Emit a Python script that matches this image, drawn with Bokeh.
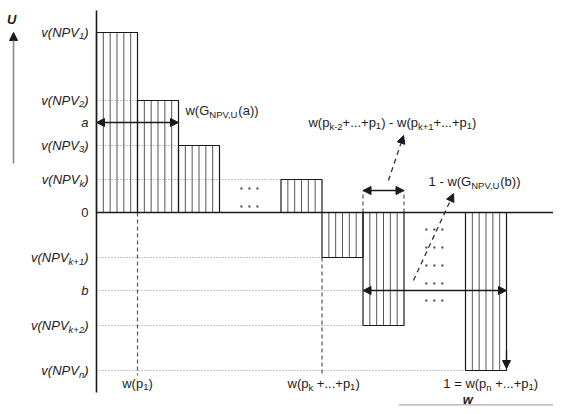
import numpy as np
from bokeh.plotting import figure
from bokeh.models import ColumnDataSource, Range1d, Arrow, NormalHead
from bokeh.core.properties import value, field
from bokeh.embed import file_html
from bokeh.resources import INLINE

# ---------------- data (w = cumulative decision weight, U = utility) -------------
bar_left = [0.00, 0.10, 0.20, 0.45, 0.55, 0.65, 0.90]
bar_right = [0.10, 0.20, 0.30, 0.55, 0.65, 0.75, 1.00]
bar_value = [9.0, 5.6, 3.35, 1.65, -2.25, -5.65, -7.9]
level_a = 4.5
level_b = -3.9
tick_values = [9.0, 5.6, 4.5, 3.35, 1.65, 0.0, -2.25, -3.9, -5.65, -7.9]
tick_labels = ["v(NPV_{1})", "v(NPV_{2})", "a", "v(NPV_{3})", "v(NPV_{k})", "0",
               "v(NPV_{k+1})", "b", "v(NPV_{k+2})", "v(NPV_{n})"]
w_ticks = [0.10, 0.55, 1.00]
w_tick_labels = ["w(p_{1})", "w(p_{k} +...+p_{1})", "1 = w(p_{n} +...+p_{1})"]
gap_marker = [0.65, 0.75, 1.1]          # x0, x1, height of the small width marker
dots_upper = ([0.373], [1.2, 0.3])
dots_lower = ([0.824], [-0.85, -1.75, -2.65, -3.55, -4.4])

# -------------------------------------------------------------------------------
ARIAL = {' ': 278, '(': 333, ')': 333, '+': 584, ',': 278, '-': 333, '.': 278, '=': 584,
         'G': 778, 'N': 722, 'P': 667, 'U': 722, 'V': 667, 'a': 556, 'b': 556, 'k': 500,
         'n': 556, 'p': 556, 'v': 500, 'w': 722}


def parse(s):
    parts = []
    i = 0
    while i < len(s):
        j = s.find("_{", i)
        if j < 0:
            parts.append((s[i:], False))
            break
        if j > i:
            parts.append((s[i:j], False))
        k = s.find("}", j)
        parts.append((s[j + 2:k], True))
        i = k + 1
    return parts


def twidth(t, size):
    return sum(ARIAL.get(c, 556) for c in t) * size / 1000.0


texts = {}


def rich(x, y, s, align="left", dx=0.0, size=13.0, sub=9.5, style="normal"):
    parts = parse(s)
    total = sum(twidth(t, sub if b else size) for t, b in parts)
    cur = dx - {"left": 0.0, "center": total / 2.0, "right": total}[align]
    d = texts.setdefault(style, dict(x=[], y=[], text=[], xo=[], yo=[], size=[]))
    for t, b in parts:
        fs = sub if b else size
        d["x"].append(x); d["y"].append(y); d["text"].append(t.replace(" ", "\u00a0"))
        d["xo"].append(cur); d["yo"].append(3.5 if b else 0.0)
        d["size"].append(f"{fs}px")
        cur += twidth(t, fs)


xr = Range1d(-96 / 410, (553 - 96) / 410)
yr = Range1d((212 - 406) / 20, 212 / 20)
p = figure(width=553, height=406, x_range=xr, y_range=yr, output_backend="svg",
           toolbar_location=None, x_axis_location=None, y_axis_location=None,
           min_border=0, outline_line_color=None, background_fill_color="white",
           border_fill_color="white")
p.grid.visible = False

INK = "#1a1a1a"

# dotted level lines
lx0, lx1, ly = [], [], []
for i in range(1, len(bar_value)):
    lx0.append(0.0); lx1.append(bar_left[i]); ly.append(bar_value[i])
lx0.append(0.0); lx1.append(gap_marker[0]); ly.append(level_b)
p.segment(x0=lx0, y0=ly, x1=lx1, y1=ly, line_color="#8c8c8c", line_width=1,
          line_dash="1 2")

# hatching
hx, hy0, hy1 = [], [], []
for l, r, v in zip(bar_left, bar_right, bar_value):
    for xx in np.linspace(l, r, 7)[1:-1]:
        hx.append(xx); hy0.append(0.0); hy1.append(v)
p.segment(x0=hx, y0=hy0, x1=hx, y1=hy1, line_color="#444444", line_width=0.9)

# bars
p.quad(left=bar_left, right=bar_right, bottom=[min(0, v) for v in bar_value],
       top=[max(0, v) for v in bar_value], fill_color=None, line_color=INK, line_width=1.2)

# dashed verticals
p.segment(x0=[w_ticks[0], w_ticks[1]], y0=[0.0, bar_value[4]],
          x1=[w_ticks[0], w_ticks[1]], y1=[-8.15, -8.15],
          line_color="#555555", line_width=1.2, line_dash="4 3")
p.segment(x0=gap_marker[:2], y0=[0, 0], x1=gap_marker[:2], y1=[gap_marker[2]] * 2,
          line_color="#555555", line_width=1.2, line_dash="4 3")

# axes lines
p.segment(x0=[0.0], y0=[10.1], x1=[0.0], y1=[-9.0], line_color=INK, line_width=1.6)
p.segment(x0=[0.0], y0=[0.0], x1=[1.122], y1=[0.0], line_color=INK, line_width=1.6)
p.segment(x0=[0.737], y0=[-9.62], x1=[1.134], y1=[-9.62], line_color="#999999", line_width=1)


def head():
    return NormalHead(size=8, fill_color=INK, line_color=INK, line_width=1)


def arrow(x0, y0, x1, y1, both=False, dash="solid", color=INK, width=1.3):
    a = Arrow(x_start=x0, y_start=y0, x_end=x1, y_end=y1, end=head(),
              start=head() if both else None, line_color=color, line_width=width,
              line_dash=dash)
    p.add_layout(a)


arrow(0.0, level_a, bar_right[1], level_a, both=True)
arrow(gap_marker[0], level_b, bar_right[6], level_b, both=True)
arrow(gap_marker[0], gap_marker[2], gap_marker[1], gap_marker[2], both=True)
arrow(bar_right[6], -6.9, bar_right[6], bar_value[6] + 0.1)
arrow(0.712, 1.6, 0.749, 3.85, dash="5 4", color="#333333")
arrow(0.773, -3.4, 0.871, 0.95, dash="5 4", color="#333333")
arrow(-0.2024, 2.45, -0.2024, 9.0, color="#8a8a8a", width=1.6)

# dots
ux, uy = [], []
for cx in dots_upper[0]:
    for cy in dots_upper[1]:
        for k in (-1, 0, 1):
            ux.append(cx + k * 8 / 410); uy.append(cy)
for cx in dots_lower[0]:
    for cy in dots_lower[1]:
        for k in (-1, 0, 1):
            ux.append(cx + k * 8 / 410); uy.append(cy)
p.scatter(ux, uy, marker="square", size=2.0, fill_color="#444444", line_color=None)

# texts
for v, lab in zip(tick_values, tick_labels):
    rich(0.0, v, lab, align="right", dx=-8, style="normal" if lab == "0" else "italic")
rich(w_ticks[0], -8.55, w_tick_labels[0], align="center")
rich(0.466, -8.55, w_tick_labels[1])
rich(0.846, -8.55, w_tick_labels[2])
rich(0.217, 5.1, "w(G_{NPV,U}(a))")
rich(0.517, 4.5, "w(p_{k-2}+...+p_{1}) - w(p_{k+1}+...+p_{1})")
rich(0.81, 1.55, "1 - w(G_{NPV,U}(b))")
rich(0.905, -9.35, "w", align="center", size=13, style="bold italic")
rich(-0.207, 9.65, "U", align="center", size=13, style="bold italic")

for style, d in texts.items():
    src = ColumnDataSource(d)
    p.text(x="x", y="y", text="text", x_offset="xo", y_offset="yo", source=src,
           text_font=value("Liberation Sans"), text_font_size=field("size"),
           text_font_style=style, text_align="left", text_baseline="middle",
           text_color="#222222")

open("out.html", "w").write(file_html(p, INLINE))
